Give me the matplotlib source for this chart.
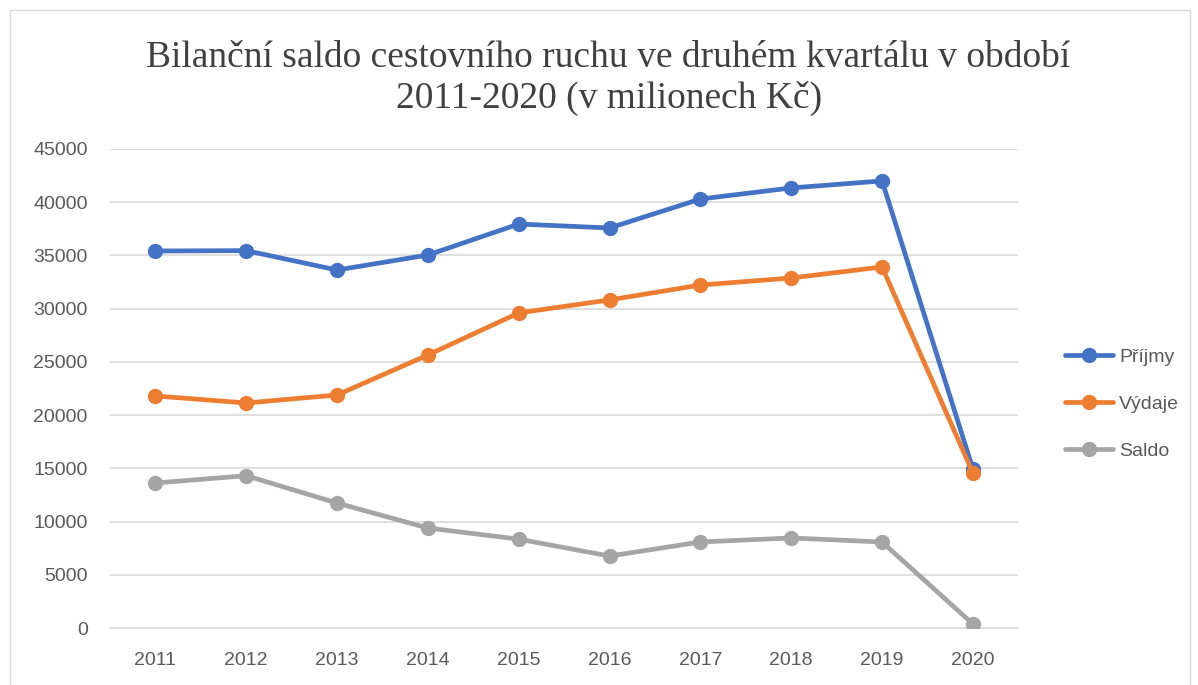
import matplotlib
matplotlib.use('Agg')
import matplotlib.pyplot as plt
from matplotlib.patches import Rectangle

# --- Data (v milionech Kč) --- #
roky    = ['2011', '2012', '2013', '2014', '2015', '2016', '2017', '2018', '2019', '2020']
prijmy  = [35420, 35450, 33630, 35040, 37950, 37580, 40300, 41340, 42000, 14940]
vydaje  = [21800, 21140, 21890, 25650, 29600, 30820, 32220, 32880, 33920, 14560]
saldo   = [13620, 14310, 11740, 9390, 8350, 6760, 8080, 8460, 8080, 380]

plt.rcParams['font.family'] = ['Liberation Sans', 'DejaVu Sans']

fig = plt.figure(figsize=(11.98, 6.85), dpi=100)
ax = fig.add_axes([0.0918, 0.0832, 0.7582, 0.6993])

x = range(len(roky))
series = [(prijmy, 'Příjmy', '#4472C4'),
          (vydaje, 'Výdaje', '#ED7D31'),
          (saldo,  'Saldo',  '#A5A5A5')]
for vals, name, col in series:
    ax.plot(x, vals, color=col, lw=3.4, marker='o', ms=10, label=name,
            solid_capstyle='round', zorder=3)

ax.set_xlim(-0.5, len(roky) - 0.5)
ax.set_ylim(0, 45000)
ax.set_yticks(range(0, 45001, 5000))
ax.set_xticks(list(x))
ax.set_xticklabels(roky)
ax.grid(axis='y', color='#D9D9D9', lw=1.2)
ax.set_axisbelow(True)
for s in ['top', 'right', 'left']:
    ax.spines[s].set_visible(False)
ax.spines['bottom'].set_color('#D9D9D9')
ax.spines['bottom'].set_linewidth(1.2)
ax.tick_params(axis='both', length=0, labelsize=14, colors='#595959')
ax.tick_params(axis='x', pad=17)
ax.tick_params(axis='y', pad=16)

fig.text(0.508, 0.886, 'Bilanční saldo cestovního ruchu ve druhém kvartálu v období\n2011-2020 (v milionech Kč)',
         ha='center', va='center', fontsize=27, color='#404040',
         family=['Liberation Serif', 'DejaVu Serif'], linespacing=1.22)

leg = fig.legend(loc='center left', bbox_to_anchor=(0.874, 0.41), frameon=False,
                 fontsize=14, handlelength=2.5, labelspacing=1.5, handletextpad=0.3)
for t in leg.get_texts():
    t.set_color('#595959')

fig.patches.append(Rectangle((0.008, -0.01), 0.985, 0.995, transform=fig.transFigure,
                             fill=False, edgecolor='#D9D9D9', lw=1))

fig.savefig('out.png', dpi=100)
